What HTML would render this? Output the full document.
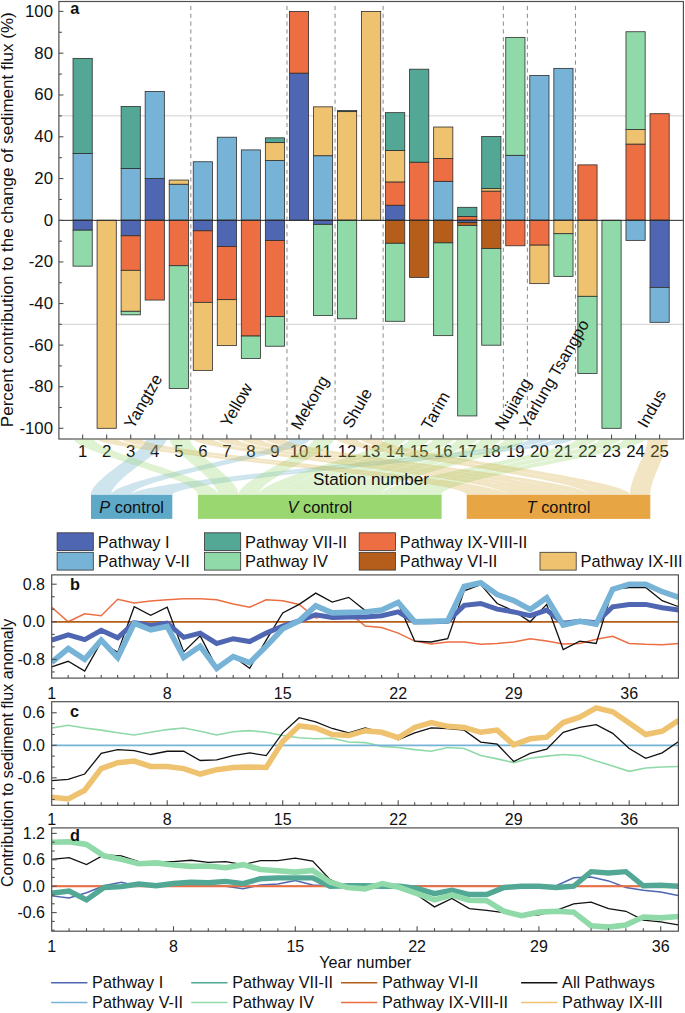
<!DOCTYPE html><html><head><meta charset="utf-8"><style>html,body{margin:0;padding:0;background:#fff;width:685px;height:1013px;overflow:hidden;position:relative}</style></head><body><svg width="685" height="1013" viewBox="0 0 685 1013" style="position:absolute;left:0;top:0;font-family:'Liberation Sans', sans-serif">
<rect width="685" height="1013" fill="#fff"/>
<line x1="58.9" x2="683.4" y1="115.87" y2="115.87" stroke="#cfcfcf" stroke-width="1"/>
<line x1="58.9" x2="683.4" y1="324.32" y2="324.32" stroke="#cfcfcf" stroke-width="1"/>
<line x1="190.82" x2="190.82" y1="5.9" y2="439.0" stroke="#8a8a8a" stroke-width="1" stroke-dasharray="4.2,3.6"/>
<line x1="286.98" x2="286.98" y1="5.9" y2="439.0" stroke="#8a8a8a" stroke-width="1" stroke-dasharray="4.2,3.6"/>
<line x1="335.06" x2="335.06" y1="5.9" y2="439.0" stroke="#8a8a8a" stroke-width="1" stroke-dasharray="4.2,3.6"/>
<line x1="383.14" x2="383.14" y1="5.9" y2="439.0" stroke="#8a8a8a" stroke-width="1" stroke-dasharray="4.2,3.6"/>
<line x1="503.34" x2="503.34" y1="5.9" y2="439.0" stroke="#8a8a8a" stroke-width="1" stroke-dasharray="4.2,3.6"/>
<line x1="527.38" x2="527.38" y1="5.9" y2="439.0" stroke="#8a8a8a" stroke-width="1" stroke-dasharray="4.2,3.6"/>
<line x1="575.46" x2="575.46" y1="5.9" y2="439.0" stroke="#8a8a8a" stroke-width="1" stroke-dasharray="4.2,3.6"/>
<rect x="73.04" y="153.43" width="19.2" height="66.77" fill="#76b3d7" stroke="#2e2e2e" stroke-width="0.8"/>
<rect x="73.04" y="58.38" width="19.2" height="95.06" fill="#52a894" stroke="#2e2e2e" stroke-width="0.8"/>
<rect x="73.04" y="220.20" width="19.2" height="9.98" fill="#4f66b2" stroke="#2e2e2e" stroke-width="0.8"/>
<rect x="73.04" y="230.18" width="19.2" height="35.98" fill="#8fdaa8" stroke="#2e2e2e" stroke-width="0.8"/>
<rect x="97.08" y="220.20" width="19.2" height="208.10" fill="#eec26e" stroke="#2e2e2e" stroke-width="0.8"/>
<rect x="121.12" y="168.41" width="19.2" height="51.79" fill="#76b3d7" stroke="#2e2e2e" stroke-width="0.8"/>
<rect x="121.12" y="106.42" width="19.2" height="61.98" fill="#52a894" stroke="#2e2e2e" stroke-width="0.8"/>
<rect x="121.12" y="220.20" width="19.2" height="15.60" fill="#4f66b2" stroke="#2e2e2e" stroke-width="0.8"/>
<rect x="121.12" y="235.80" width="19.2" height="34.53" fill="#ec6e42" stroke="#2e2e2e" stroke-width="0.8"/>
<rect x="121.12" y="270.33" width="19.2" height="40.98" fill="#eec26e" stroke="#2e2e2e" stroke-width="0.8"/>
<rect x="121.12" y="311.30" width="19.2" height="3.54" fill="#8fdaa8" stroke="#2e2e2e" stroke-width="0.8"/>
<rect x="145.16" y="178.60" width="19.2" height="41.60" fill="#4f66b2" stroke="#2e2e2e" stroke-width="0.8"/>
<rect x="145.16" y="91.45" width="19.2" height="87.15" fill="#76b3d7" stroke="#2e2e2e" stroke-width="0.8"/>
<rect x="145.16" y="220.20" width="19.2" height="79.87" fill="#ec6e42" stroke="#2e2e2e" stroke-width="0.8"/>
<rect x="169.20" y="184.22" width="19.2" height="35.98" fill="#76b3d7" stroke="#2e2e2e" stroke-width="0.8"/>
<rect x="169.20" y="180.06" width="19.2" height="4.16" fill="#eec26e" stroke="#2e2e2e" stroke-width="0.8"/>
<rect x="169.20" y="220.20" width="19.2" height="45.55" fill="#ec6e42" stroke="#2e2e2e" stroke-width="0.8"/>
<rect x="169.20" y="265.75" width="19.2" height="122.72" fill="#8fdaa8" stroke="#2e2e2e" stroke-width="0.8"/>
<rect x="193.24" y="161.75" width="19.2" height="58.45" fill="#76b3d7" stroke="#2e2e2e" stroke-width="0.8"/>
<rect x="193.24" y="220.20" width="19.2" height="10.61" fill="#4f66b2" stroke="#2e2e2e" stroke-width="0.8"/>
<rect x="193.24" y="230.81" width="19.2" height="71.55" fill="#ec6e42" stroke="#2e2e2e" stroke-width="0.8"/>
<rect x="193.24" y="302.36" width="19.2" height="68.02" fill="#eec26e" stroke="#2e2e2e" stroke-width="0.8"/>
<rect x="217.28" y="137.21" width="19.2" height="82.99" fill="#76b3d7" stroke="#2e2e2e" stroke-width="0.8"/>
<rect x="217.28" y="220.20" width="19.2" height="26.21" fill="#4f66b2" stroke="#2e2e2e" stroke-width="0.8"/>
<rect x="217.28" y="246.41" width="19.2" height="53.25" fill="#ec6e42" stroke="#2e2e2e" stroke-width="0.8"/>
<rect x="217.28" y="299.66" width="19.2" height="45.97" fill="#eec26e" stroke="#2e2e2e" stroke-width="0.8"/>
<rect x="241.32" y="149.90" width="19.2" height="70.30" fill="#76b3d7" stroke="#2e2e2e" stroke-width="0.8"/>
<rect x="241.32" y="220.20" width="19.2" height="115.86" fill="#ec6e42" stroke="#2e2e2e" stroke-width="0.8"/>
<rect x="241.32" y="336.06" width="19.2" height="22.46" fill="#8fdaa8" stroke="#2e2e2e" stroke-width="0.8"/>
<rect x="265.36" y="160.50" width="19.2" height="59.70" fill="#76b3d7" stroke="#2e2e2e" stroke-width="0.8"/>
<rect x="265.36" y="142.62" width="19.2" height="17.89" fill="#eec26e" stroke="#2e2e2e" stroke-width="0.8"/>
<rect x="265.36" y="137.83" width="19.2" height="4.78" fill="#52a894" stroke="#2e2e2e" stroke-width="0.8"/>
<rect x="265.36" y="220.20" width="19.2" height="20.38" fill="#4f66b2" stroke="#2e2e2e" stroke-width="0.8"/>
<rect x="265.36" y="240.58" width="19.2" height="75.92" fill="#ec6e42" stroke="#2e2e2e" stroke-width="0.8"/>
<rect x="265.36" y="316.50" width="19.2" height="29.74" fill="#8fdaa8" stroke="#2e2e2e" stroke-width="0.8"/>
<rect x="289.40" y="73.14" width="19.2" height="147.06" fill="#4f66b2" stroke="#2e2e2e" stroke-width="0.8"/>
<rect x="289.40" y="11.40" width="19.2" height="61.74" fill="#ec6e42" stroke="#2e2e2e" stroke-width="0.8"/>
<rect x="313.44" y="155.72" width="19.2" height="64.48" fill="#76b3d7" stroke="#2e2e2e" stroke-width="0.8"/>
<rect x="313.44" y="106.84" width="19.2" height="48.88" fill="#eec26e" stroke="#2e2e2e" stroke-width="0.8"/>
<rect x="313.44" y="220.20" width="19.2" height="4.16" fill="#4f66b2" stroke="#2e2e2e" stroke-width="0.8"/>
<rect x="313.44" y="224.36" width="19.2" height="91.10" fill="#8fdaa8" stroke="#2e2e2e" stroke-width="0.8"/>
<rect x="337.48" y="111.62" width="19.2" height="108.58" fill="#eec26e" stroke="#2e2e2e" stroke-width="0.8"/>
<rect x="337.48" y="110.58" width="19.2" height="1.04" fill="#52a894" stroke="#2e2e2e" stroke-width="0.8"/>
<rect x="337.48" y="220.20" width="19.2" height="98.59" fill="#8fdaa8" stroke="#2e2e2e" stroke-width="0.8"/>
<rect x="361.52" y="11.40" width="19.2" height="208.80" fill="#eec26e" stroke="#2e2e2e" stroke-width="0.8"/>
<rect x="385.56" y="205.22" width="19.2" height="14.98" fill="#4f66b2" stroke="#2e2e2e" stroke-width="0.8"/>
<rect x="385.56" y="181.93" width="19.2" height="23.30" fill="#ec6e42" stroke="#2e2e2e" stroke-width="0.8"/>
<rect x="385.56" y="150.52" width="19.2" height="31.41" fill="#eec26e" stroke="#2e2e2e" stroke-width="0.8"/>
<rect x="385.56" y="112.66" width="19.2" height="37.86" fill="#52a894" stroke="#2e2e2e" stroke-width="0.8"/>
<rect x="385.56" y="220.20" width="19.2" height="23.09" fill="#b55d1b" stroke="#2e2e2e" stroke-width="0.8"/>
<rect x="385.56" y="243.29" width="19.2" height="78.00" fill="#8fdaa8" stroke="#2e2e2e" stroke-width="0.8"/>
<rect x="409.60" y="162.17" width="19.2" height="58.03" fill="#ec6e42" stroke="#2e2e2e" stroke-width="0.8"/>
<rect x="409.60" y="69.19" width="19.2" height="92.98" fill="#52a894" stroke="#2e2e2e" stroke-width="0.8"/>
<rect x="409.60" y="220.20" width="19.2" height="57.20" fill="#b55d1b" stroke="#2e2e2e" stroke-width="0.8"/>
<rect x="433.64" y="181.30" width="19.2" height="38.90" fill="#76b3d7" stroke="#2e2e2e" stroke-width="0.8"/>
<rect x="433.64" y="158.42" width="19.2" height="22.88" fill="#ec6e42" stroke="#2e2e2e" stroke-width="0.8"/>
<rect x="433.64" y="127.02" width="19.2" height="31.41" fill="#eec26e" stroke="#2e2e2e" stroke-width="0.8"/>
<rect x="433.64" y="220.20" width="19.2" height="22.67" fill="#b55d1b" stroke="#2e2e2e" stroke-width="0.8"/>
<rect x="433.64" y="242.87" width="19.2" height="92.77" fill="#8fdaa8" stroke="#2e2e2e" stroke-width="0.8"/>
<rect x="457.68" y="216.46" width="19.2" height="3.74" fill="#ec6e42" stroke="#2e2e2e" stroke-width="0.8"/>
<rect x="457.68" y="207.30" width="19.2" height="9.15" fill="#52a894" stroke="#2e2e2e" stroke-width="0.8"/>
<rect x="457.68" y="220.20" width="19.2" height="2.29" fill="#4f66b2" stroke="#2e2e2e" stroke-width="0.8"/>
<rect x="457.68" y="222.49" width="19.2" height="2.91" fill="#b55d1b" stroke="#2e2e2e" stroke-width="0.8"/>
<rect x="457.68" y="225.40" width="19.2" height="190.53" fill="#8fdaa8" stroke="#2e2e2e" stroke-width="0.8"/>
<rect x="481.72" y="191.08" width="19.2" height="29.12" fill="#ec6e42" stroke="#2e2e2e" stroke-width="0.8"/>
<rect x="481.72" y="188.58" width="19.2" height="2.50" fill="#eec26e" stroke="#2e2e2e" stroke-width="0.8"/>
<rect x="481.72" y="136.58" width="19.2" height="52.00" fill="#52a894" stroke="#2e2e2e" stroke-width="0.8"/>
<rect x="481.72" y="220.20" width="19.2" height="28.29" fill="#b55d1b" stroke="#2e2e2e" stroke-width="0.8"/>
<rect x="481.72" y="248.49" width="19.2" height="96.72" fill="#8fdaa8" stroke="#2e2e2e" stroke-width="0.8"/>
<rect x="505.76" y="155.30" width="19.2" height="64.90" fill="#76b3d7" stroke="#2e2e2e" stroke-width="0.8"/>
<rect x="505.76" y="37.37" width="19.2" height="117.94" fill="#8fdaa8" stroke="#2e2e2e" stroke-width="0.8"/>
<rect x="505.76" y="220.20" width="19.2" height="25.58" fill="#ec6e42" stroke="#2e2e2e" stroke-width="0.8"/>
<rect x="529.80" y="75.43" width="19.2" height="144.77" fill="#76b3d7" stroke="#2e2e2e" stroke-width="0.8"/>
<rect x="529.80" y="220.20" width="19.2" height="24.96" fill="#ec6e42" stroke="#2e2e2e" stroke-width="0.8"/>
<rect x="529.80" y="245.16" width="19.2" height="38.48" fill="#eec26e" stroke="#2e2e2e" stroke-width="0.8"/>
<rect x="553.84" y="68.36" width="19.2" height="151.84" fill="#76b3d7" stroke="#2e2e2e" stroke-width="0.8"/>
<rect x="553.84" y="220.20" width="19.2" height="13.52" fill="#eec26e" stroke="#2e2e2e" stroke-width="0.8"/>
<rect x="553.84" y="233.72" width="19.2" height="42.64" fill="#8fdaa8" stroke="#2e2e2e" stroke-width="0.8"/>
<rect x="577.88" y="164.87" width="19.2" height="55.33" fill="#ec6e42" stroke="#2e2e2e" stroke-width="0.8"/>
<rect x="577.88" y="220.20" width="19.2" height="76.13" fill="#eec26e" stroke="#2e2e2e" stroke-width="0.8"/>
<rect x="577.88" y="296.33" width="19.2" height="77.17" fill="#8fdaa8" stroke="#2e2e2e" stroke-width="0.8"/>
<rect x="601.92" y="220.20" width="19.2" height="208.10" fill="#8fdaa8" stroke="#2e2e2e" stroke-width="0.8"/>
<rect x="625.96" y="144.07" width="19.2" height="76.13" fill="#ec6e42" stroke="#2e2e2e" stroke-width="0.8"/>
<rect x="625.96" y="129.51" width="19.2" height="14.56" fill="#eec26e" stroke="#2e2e2e" stroke-width="0.8"/>
<rect x="625.96" y="31.75" width="19.2" height="97.76" fill="#8fdaa8" stroke="#2e2e2e" stroke-width="0.8"/>
<rect x="625.96" y="220.20" width="19.2" height="20.18" fill="#76b3d7" stroke="#2e2e2e" stroke-width="0.8"/>
<rect x="650.00" y="113.70" width="19.2" height="106.50" fill="#ec6e42" stroke="#2e2e2e" stroke-width="0.8"/>
<rect x="650.00" y="220.20" width="19.2" height="67.18" fill="#4f66b2" stroke="#2e2e2e" stroke-width="0.8"/>
<rect x="650.00" y="287.38" width="19.2" height="34.94" fill="#76b3d7" stroke="#2e2e2e" stroke-width="0.8"/>
<line x1="58.9" x2="683.4" y1="220.35" y2="220.35" stroke="#2a2a2a" stroke-width="1.0"/>
<text x="133.3" y="429.7" font-size="16.5" fill="#111" transform="rotate(-60 133.3 429.7)" text-anchor="start">Yangtze</text>
<text x="229.4" y="428.2" font-size="16.5" fill="#111" transform="rotate(-60 229.4 428.2)" text-anchor="start">Yellow</text>
<text x="300.0" y="431.0" font-size="16.5" fill="#111" transform="rotate(-60 300.0 431.0)" text-anchor="start">Mekong</text>
<text x="351.5" y="429.2" font-size="16.5" fill="#111" transform="rotate(-60 351.5 429.2)" text-anchor="start">Shule</text>
<text x="430.3" y="430.9" font-size="16.5" fill="#111" transform="rotate(-60 430.3 430.9)" text-anchor="start">Tarim</text>
<text x="503.9" y="430.7" font-size="16.5" fill="#111" transform="rotate(-60 503.9 430.7)" text-anchor="start">Nujiang</text>
<text x="528.4" y="429.8" font-size="16.5" fill="#111" transform="rotate(-60 528.4 429.8)" text-anchor="start">Yarlung Tsangpo</text>
<text x="646.5" y="428.9" font-size="16.5" fill="#111" transform="rotate(-60 646.5 428.9)" text-anchor="start">Indus</text>
<rect x="58.9" y="1.5" width="624.5" height="437.5" fill="none" stroke="#505050" stroke-width="1.2"/>
<line x1="58.9" x2="63.4" y1="428.30" y2="428.30" stroke="#505050" stroke-width="1.1"/>
<line x1="58.9" x2="61.9" y1="407.50" y2="407.50" stroke="#505050" stroke-width="1.1"/>
<line x1="58.9" x2="63.4" y1="386.71" y2="386.71" stroke="#505050" stroke-width="1.1"/>
<line x1="58.9" x2="61.9" y1="365.91" y2="365.91" stroke="#505050" stroke-width="1.1"/>
<line x1="58.9" x2="63.4" y1="345.12" y2="345.12" stroke="#505050" stroke-width="1.1"/>
<line x1="58.9" x2="61.9" y1="324.32" y2="324.32" stroke="#505050" stroke-width="1.1"/>
<line x1="58.9" x2="63.4" y1="303.53" y2="303.53" stroke="#505050" stroke-width="1.1"/>
<line x1="58.9" x2="61.9" y1="282.74" y2="282.74" stroke="#505050" stroke-width="1.1"/>
<line x1="58.9" x2="63.4" y1="261.94" y2="261.94" stroke="#505050" stroke-width="1.1"/>
<line x1="58.9" x2="61.9" y1="241.14" y2="241.14" stroke="#505050" stroke-width="1.1"/>
<line x1="58.9" x2="63.4" y1="220.35" y2="220.35" stroke="#505050" stroke-width="1.1"/>
<line x1="58.9" x2="61.9" y1="199.45" y2="199.45" stroke="#505050" stroke-width="1.1"/>
<line x1="58.9" x2="63.4" y1="178.56" y2="178.56" stroke="#505050" stroke-width="1.1"/>
<line x1="58.9" x2="61.9" y1="157.66" y2="157.66" stroke="#505050" stroke-width="1.1"/>
<line x1="58.9" x2="63.4" y1="136.77" y2="136.77" stroke="#505050" stroke-width="1.1"/>
<line x1="58.9" x2="61.9" y1="115.87" y2="115.87" stroke="#505050" stroke-width="1.1"/>
<line x1="58.9" x2="63.4" y1="94.98" y2="94.98" stroke="#505050" stroke-width="1.1"/>
<line x1="58.9" x2="61.9" y1="74.08" y2="74.08" stroke="#505050" stroke-width="1.1"/>
<line x1="58.9" x2="63.4" y1="53.19" y2="53.19" stroke="#505050" stroke-width="1.1"/>
<line x1="58.9" x2="61.9" y1="32.29" y2="32.29" stroke="#505050" stroke-width="1.1"/>
<line x1="58.9" x2="63.4" y1="11.40" y2="11.40" stroke="#505050" stroke-width="1.1"/>
<text x="53" y="433.70" font-size="16.8" text-anchor="end" fill="#111">-100</text>
<text x="53" y="392.11" font-size="16.8" text-anchor="end" fill="#111">-80</text>
<text x="53" y="350.52" font-size="16.8" text-anchor="end" fill="#111">-60</text>
<text x="53" y="308.93" font-size="16.8" text-anchor="end" fill="#111">-40</text>
<text x="53" y="267.34" font-size="16.8" text-anchor="end" fill="#111">-20</text>
<text x="53" y="225.75" font-size="16.8" text-anchor="end" fill="#111">0</text>
<text x="53" y="183.96" font-size="16.8" text-anchor="end" fill="#111">20</text>
<text x="53" y="142.17" font-size="16.8" text-anchor="end" fill="#111">40</text>
<text x="53" y="100.38" font-size="16.8" text-anchor="end" fill="#111">60</text>
<text x="53" y="58.59" font-size="16.8" text-anchor="end" fill="#111">80</text>
<text x="53" y="16.80" font-size="16.8" text-anchor="end" fill="#111">100</text>
<line x1="82.64" x2="82.64" y1="439.0" y2="434.5" stroke="#505050" stroke-width="1.1"/>
<text x="82.64" y="456.8" font-size="16.8" text-anchor="middle" fill="#111">1</text>
<line x1="106.68" x2="106.68" y1="439.0" y2="434.5" stroke="#505050" stroke-width="1.1"/>
<text x="106.68" y="456.8" font-size="16.8" text-anchor="middle" fill="#111">2</text>
<line x1="130.72" x2="130.72" y1="439.0" y2="434.5" stroke="#505050" stroke-width="1.1"/>
<text x="130.72" y="456.8" font-size="16.8" text-anchor="middle" fill="#111">3</text>
<line x1="154.76" x2="154.76" y1="439.0" y2="434.5" stroke="#505050" stroke-width="1.1"/>
<text x="154.76" y="456.8" font-size="16.8" text-anchor="middle" fill="#111">4</text>
<line x1="178.80" x2="178.80" y1="439.0" y2="434.5" stroke="#505050" stroke-width="1.1"/>
<text x="178.80" y="456.8" font-size="16.8" text-anchor="middle" fill="#111">5</text>
<line x1="202.84" x2="202.84" y1="439.0" y2="434.5" stroke="#505050" stroke-width="1.1"/>
<text x="202.84" y="456.8" font-size="16.8" text-anchor="middle" fill="#111">6</text>
<line x1="226.88" x2="226.88" y1="439.0" y2="434.5" stroke="#505050" stroke-width="1.1"/>
<text x="226.88" y="456.8" font-size="16.8" text-anchor="middle" fill="#111">7</text>
<line x1="250.92" x2="250.92" y1="439.0" y2="434.5" stroke="#505050" stroke-width="1.1"/>
<text x="250.92" y="456.8" font-size="16.8" text-anchor="middle" fill="#111">8</text>
<line x1="274.96" x2="274.96" y1="439.0" y2="434.5" stroke="#505050" stroke-width="1.1"/>
<text x="274.96" y="456.8" font-size="16.8" text-anchor="middle" fill="#111">9</text>
<line x1="299.00" x2="299.00" y1="439.0" y2="434.5" stroke="#505050" stroke-width="1.1"/>
<text x="299.00" y="456.8" font-size="16.8" text-anchor="middle" fill="#111">10</text>
<line x1="323.04" x2="323.04" y1="439.0" y2="434.5" stroke="#505050" stroke-width="1.1"/>
<text x="323.04" y="456.8" font-size="16.8" text-anchor="middle" fill="#111">11</text>
<line x1="347.08" x2="347.08" y1="439.0" y2="434.5" stroke="#505050" stroke-width="1.1"/>
<text x="347.08" y="456.8" font-size="16.8" text-anchor="middle" fill="#111">12</text>
<line x1="371.12" x2="371.12" y1="439.0" y2="434.5" stroke="#505050" stroke-width="1.1"/>
<text x="371.12" y="456.8" font-size="16.8" text-anchor="middle" fill="#111">13</text>
<line x1="395.16" x2="395.16" y1="439.0" y2="434.5" stroke="#505050" stroke-width="1.1"/>
<text x="395.16" y="456.8" font-size="16.8" text-anchor="middle" fill="#111">14</text>
<line x1="419.20" x2="419.20" y1="439.0" y2="434.5" stroke="#505050" stroke-width="1.1"/>
<text x="419.20" y="456.8" font-size="16.8" text-anchor="middle" fill="#111">15</text>
<line x1="443.24" x2="443.24" y1="439.0" y2="434.5" stroke="#505050" stroke-width="1.1"/>
<text x="443.24" y="456.8" font-size="16.8" text-anchor="middle" fill="#111">16</text>
<line x1="467.28" x2="467.28" y1="439.0" y2="434.5" stroke="#505050" stroke-width="1.1"/>
<text x="467.28" y="456.8" font-size="16.8" text-anchor="middle" fill="#111">17</text>
<line x1="491.32" x2="491.32" y1="439.0" y2="434.5" stroke="#505050" stroke-width="1.1"/>
<text x="491.32" y="456.8" font-size="16.8" text-anchor="middle" fill="#111">18</text>
<line x1="515.36" x2="515.36" y1="439.0" y2="434.5" stroke="#505050" stroke-width="1.1"/>
<text x="515.36" y="456.8" font-size="16.8" text-anchor="middle" fill="#111">19</text>
<line x1="539.40" x2="539.40" y1="439.0" y2="434.5" stroke="#505050" stroke-width="1.1"/>
<text x="539.40" y="456.8" font-size="16.8" text-anchor="middle" fill="#111">20</text>
<line x1="563.44" x2="563.44" y1="439.0" y2="434.5" stroke="#505050" stroke-width="1.1"/>
<text x="563.44" y="456.8" font-size="16.8" text-anchor="middle" fill="#111">21</text>
<line x1="587.48" x2="587.48" y1="439.0" y2="434.5" stroke="#505050" stroke-width="1.1"/>
<text x="587.48" y="456.8" font-size="16.8" text-anchor="middle" fill="#111">22</text>
<line x1="611.52" x2="611.52" y1="439.0" y2="434.5" stroke="#505050" stroke-width="1.1"/>
<text x="611.52" y="456.8" font-size="16.8" text-anchor="middle" fill="#111">23</text>
<line x1="635.56" x2="635.56" y1="439.0" y2="434.5" stroke="#505050" stroke-width="1.1"/>
<text x="635.56" y="456.8" font-size="16.8" text-anchor="middle" fill="#111">24</text>
<line x1="659.60" x2="659.60" y1="439.0" y2="434.5" stroke="#505050" stroke-width="1.1"/>
<text x="659.60" y="456.8" font-size="16.8" text-anchor="middle" fill="#111">25</text>
<text x="13.3" y="427.2" font-size="16.0" fill="#111" transform="rotate(-90 13.3 427.2)" textLength="415" lengthAdjust="spacingAndGlyphs">Percent contribution to the change of sediment flux (%)</text>
<text x="70.3" y="13.9" font-size="16.3" font-weight="bold" fill="#111">a</text>
<path d="M145.95,439.6 C145.95,451.60 91.00,478.80 91.00,494.8 L111.33,494.8 C111.33,478.80 166.27,451.60 166.27,439.6 Z" fill="#5ea8c8" fill-opacity="0.3"/>
<path d="M289.29,439.6 C289.29,451.60 111.33,478.80 111.33,494.8 L131.65,494.8 C131.65,478.80 309.61,451.60 309.61,439.6 Z" fill="#5ea8c8" fill-opacity="0.3"/>
<path d="M528.19,439.6 C528.19,451.60 131.65,478.80 131.65,494.8 L151.98,494.8 C151.98,478.80 548.51,451.60 548.51,439.6 Z" fill="#5ea8c8" fill-opacity="0.3"/>
<path d="M552.08,439.6 C552.08,451.60 151.98,478.80 151.98,494.8 L172.30,494.8 C172.30,478.80 572.40,451.60 572.40,439.6 Z" fill="#5ea8c8" fill-opacity="0.3"/>
<path d="M74.29,439.6 C74.29,451.60 198.00,478.80 198.00,494.8 L218.30,494.8 C218.30,478.80 94.59,451.60 94.59,439.6 Z" fill="#96d46a" fill-opacity="0.3"/>
<path d="M169.85,439.6 C169.85,451.60 218.30,478.80 218.30,494.8 L238.60,494.8 C238.60,478.80 190.15,451.60 190.15,439.6 Z" fill="#96d46a" fill-opacity="0.3"/>
<path d="M313.19,439.6 C313.19,451.60 238.60,478.80 238.60,494.8 L258.90,494.8 C258.90,478.80 333.49,451.60 333.49,439.6 Z" fill="#96d46a" fill-opacity="0.3"/>
<path d="M384.86,439.6 C384.86,451.60 258.90,478.80 258.90,494.8 L279.20,494.8 C279.20,478.80 405.16,451.60 405.16,439.6 Z" fill="#96d46a" fill-opacity="0.3"/>
<path d="M408.75,439.6 C408.75,451.60 279.20,478.80 279.20,494.8 L299.50,494.8 C299.50,478.80 429.05,451.60 429.05,439.6 Z" fill="#96d46a" fill-opacity="0.3"/>
<path d="M432.64,439.6 C432.64,451.60 299.50,478.80 299.50,494.8 L319.80,494.8 C319.80,478.80 452.94,451.60 452.94,439.6 Z" fill="#96d46a" fill-opacity="0.3"/>
<path d="M456.53,439.6 C456.53,451.60 319.80,478.80 319.80,494.8 L340.10,494.8 C340.10,478.80 476.83,451.60 476.83,439.6 Z" fill="#96d46a" fill-opacity="0.3"/>
<path d="M480.42,439.6 C480.42,451.60 340.10,478.80 340.10,494.8 L360.40,494.8 C360.40,478.80 500.72,451.60 500.72,439.6 Z" fill="#96d46a" fill-opacity="0.3"/>
<path d="M504.31,439.6 C504.31,451.60 360.40,478.80 360.40,494.8 L380.70,494.8 C380.70,478.80 524.61,451.60 524.61,439.6 Z" fill="#96d46a" fill-opacity="0.3"/>
<path d="M575.98,439.6 C575.98,451.60 380.70,478.80 380.70,494.8 L401.00,494.8 C401.00,478.80 596.28,451.60 596.28,439.6 Z" fill="#96d46a" fill-opacity="0.3"/>
<path d="M599.87,439.6 C599.87,451.60 401.00,478.80 401.00,494.8 L421.30,494.8 C421.30,478.80 620.17,451.60 620.17,439.6 Z" fill="#96d46a" fill-opacity="0.3"/>
<path d="M623.76,439.6 C623.76,451.60 421.30,478.80 421.30,494.8 L441.60,494.8 C441.60,478.80 644.06,451.60 644.06,439.6 Z" fill="#96d46a" fill-opacity="0.3"/>
<path d="M98.13,439.6 C98.13,451.60 466.70,478.80 466.70,494.8 L487.10,494.8 C487.10,478.80 118.53,451.60 118.53,439.6 Z" fill="#d2aa3c" fill-opacity="0.3"/>
<path d="M122.02,439.6 C122.02,451.60 487.10,478.80 487.10,494.8 L507.50,494.8 C507.50,478.80 142.42,451.60 142.42,439.6 Z" fill="#d2aa3c" fill-opacity="0.3"/>
<path d="M193.69,439.6 C193.69,451.60 507.50,478.80 507.50,494.8 L527.90,494.8 C527.90,478.80 214.09,451.60 214.09,439.6 Z" fill="#d2aa3c" fill-opacity="0.3"/>
<path d="M217.58,439.6 C217.58,451.60 527.90,478.80 527.90,494.8 L548.30,494.8 C548.30,478.80 237.98,451.60 237.98,439.6 Z" fill="#d2aa3c" fill-opacity="0.3"/>
<path d="M241.47,439.6 C241.47,451.60 548.30,478.80 548.30,494.8 L568.70,494.8 C568.70,478.80 261.87,451.60 261.87,439.6 Z" fill="#d2aa3c" fill-opacity="0.3"/>
<path d="M265.36,439.6 C265.36,451.60 568.70,478.80 568.70,494.8 L589.10,494.8 C589.10,478.80 285.76,451.60 285.76,439.6 Z" fill="#d2aa3c" fill-opacity="0.3"/>
<path d="M337.03,439.6 C337.03,451.60 589.10,478.80 589.10,494.8 L609.50,494.8 C609.50,478.80 357.43,451.60 357.43,439.6 Z" fill="#d2aa3c" fill-opacity="0.3"/>
<path d="M360.92,439.6 C360.92,451.60 609.50,478.80 609.50,494.8 L629.90,494.8 C629.90,478.80 381.32,451.60 381.32,439.6 Z" fill="#d2aa3c" fill-opacity="0.3"/>
<path d="M647.60,439.6 C647.60,451.60 629.90,478.80 629.90,494.8 L650.30,494.8 C650.30,478.80 668.00,451.60 668.00,439.6 Z" fill="#d2aa3c" fill-opacity="0.3"/>
<text x="371" y="485" font-size="17.1" text-anchor="middle" fill="#111">Station number</text>
<rect x="91.0" y="494.8" width="81.30" height="24.1" fill="#5ea8c8"/>
<text x="131.65" y="513.2" font-size="16.4" text-anchor="middle" fill="#111"><tspan font-style="italic">P</tspan> control</text>
<rect x="198.0" y="494.8" width="243.60" height="24.1" fill="#9ad770"/>
<text x="319.80" y="513.2" font-size="16.4" text-anchor="middle" fill="#111"><tspan font-style="italic">V</tspan> control</text>
<rect x="466.7" y="494.8" width="183.60" height="24.1" fill="#e8a543"/>
<text x="558.50" y="513.2" font-size="16.4" text-anchor="middle" fill="#111"><tspan font-style="italic">T</tspan> control</text>
<rect x="57.1" y="532.8" width="36.2" height="17.8" fill="#4f66b2" stroke="#333" stroke-width="0.8"/>
<text x="97.7" y="547.7" font-size="16.4" fill="#111">Pathway I</text>
<rect x="57.1" y="552.3" width="36.2" height="17.8" fill="#76b3d7" stroke="#333" stroke-width="0.8"/>
<text x="97.7" y="567.2" font-size="16.4" fill="#111">Pathway V-II</text>
<rect x="204.5" y="532.8" width="36.2" height="17.8" fill="#52a894" stroke="#333" stroke-width="0.8"/>
<text x="245.1" y="547.7" font-size="16.4" fill="#111">Pathway VII-II</text>
<rect x="204.5" y="552.3" width="36.2" height="17.8" fill="#8fdaa8" stroke="#333" stroke-width="0.8"/>
<text x="245.1" y="567.2" font-size="16.4" fill="#111">Pathway IV</text>
<rect x="359.2" y="532.8" width="36.2" height="17.8" fill="#ec6e42" stroke="#333" stroke-width="0.8"/>
<text x="399.8" y="547.7" font-size="16.4" fill="#111">Pathway IX-VIII-II</text>
<rect x="359.2" y="552.3" width="36.2" height="17.8" fill="#b55d1b" stroke="#333" stroke-width="0.8"/>
<text x="399.8" y="567.2" font-size="16.4" fill="#111">Pathway VI-II</text>
<rect x="540.0" y="552.3" width="36.2" height="17.8" fill="#eec26e" stroke="#333" stroke-width="0.8"/>
<text x="580.6" y="567.2" font-size="16.4" fill="#111">Pathway IX-III</text>
<clipPath id="clipb"><rect x="51.7" y="574.9" width="626.7" height="103.2"/></clipPath>
<g clip-path="url(#clipb)">
<polyline points="51.70,607.23 68.20,621.80 84.70,613.81 101.20,615.69 117.70,599.24 134.20,603.00 150.70,601.12 167.20,599.71 183.70,598.77 200.20,598.77 216.70,599.71 233.20,603.94 249.70,607.23 266.20,599.71 282.70,600.65 299.20,604.41 315.70,618.04 332.20,614.75 348.70,612.40 365.20,626.03 381.70,627.44 398.20,633.08 414.70,641.07 431.20,643.89 447.70,642.01 464.20,642.01 480.70,644.36 497.20,643.42 513.70,642.01 530.20,638.72 546.70,641.07 563.20,643.89 579.70,643.42 596.20,639.19 612.70,636.37 629.20,643.42 645.70,644.36 662.20,644.83 678.70,643.42" fill="none" stroke="#ec6e42" stroke-width="1.5" stroke-linejoin="miter" stroke-miterlimit="3"/>
<polyline points="51.70,621.80 68.20,621.80 84.70,621.80 101.20,621.80 117.70,621.80 134.20,621.80 150.70,621.80 167.20,621.80 183.70,621.80 200.20,621.80 216.70,621.80 233.20,621.80 249.70,621.80 266.20,621.80 282.70,621.80 299.20,621.80 315.70,621.80 332.20,621.80 348.70,621.80 365.20,621.80 381.70,621.80 398.20,621.80 414.70,621.80 431.20,621.80 447.70,621.80 464.20,621.80 480.70,621.80 497.20,621.80 513.70,621.80 530.20,621.80 546.70,621.80 563.20,621.80 579.70,621.80 596.20,621.80 612.70,621.80 629.20,621.80 645.70,621.80 662.20,621.80 678.70,621.80" fill="none" stroke="#b55d1b" stroke-width="1.7" stroke-linejoin="miter" stroke-miterlimit="3"/>
<polyline points="51.70,666.92 68.20,661.28 84.70,671.15 101.20,642.01 117.70,652.35 134.20,606.76 150.70,615.22 167.20,607.23 183.70,651.88 200.20,635.90 216.70,667.86 233.20,656.58 249.70,668.33 266.20,640.13 282.70,612.87 299.20,604.41 315.70,593.13 332.20,602.06 348.70,597.36 365.20,610.52 381.70,610.05 398.20,603.47 414.70,641.07 431.20,642.01 447.70,638.72 464.20,590.78 480.70,584.67 497.20,603.47 513.70,610.99 530.20,621.80 546.70,604.41 563.20,649.53 579.70,641.07 596.20,643.42 612.70,589.37 629.20,587.49 645.70,587.49 662.20,600.65 678.70,606.76" fill="none" stroke="#111" stroke-width="1.3" stroke-linejoin="miter" stroke-miterlimit="3"/>
<polyline points="51.70,640.13 68.20,634.96 84.70,639.66 101.20,630.26 117.70,637.78 134.20,622.74 150.70,625.56 167.20,623.21 183.70,637.31 200.20,633.08 216.70,643.42 233.20,638.72 249.70,641.54 266.20,633.08 282.70,626.03 299.20,620.86 315.70,614.75 332.20,617.57 348.70,617.10 365.20,617.10 381.70,615.69 398.20,611.93 414.70,621.80 431.20,621.80 447.70,621.33 464.20,605.35 480.70,603.47 497.20,609.11 513.70,611.93 530.20,615.69 546.70,610.05 563.20,623.21 579.70,621.33 596.20,622.74 612.70,606.76 629.20,604.41 645.70,604.41 662.20,607.70 678.70,610.05" fill="none" stroke="#4f66b2" stroke-width="5.0" stroke-linejoin="miter" stroke-miterlimit="3"/>
<polyline points="51.70,662.22 68.20,648.59 84.70,659.40 101.20,640.13 117.70,657.52 134.20,623.21 150.70,629.79 167.20,626.50 183.70,657.52 200.20,646.24 216.70,668.33 233.20,656.58 249.70,662.69 266.20,646.24 282.70,628.85 299.20,620.86 315.70,605.82 332.20,612.87 348.70,612.40 365.20,611.93 381.70,610.05 398.20,602.53 414.70,621.80 431.20,621.33 447.70,620.86 464.20,586.55 480.70,582.79 497.20,594.54 513.70,600.65 530.20,609.58 546.70,597.83 563.20,625.09 579.70,621.33 596.20,624.15 612.70,589.37 629.20,584.20 645.70,584.20 662.20,591.72 678.70,597.36" fill="none" stroke="#76b3d7" stroke-width="5.6" stroke-linejoin="miter" stroke-miterlimit="3"/>
</g>
<rect x="51.7" y="574.9" width="626.7" height="103.2" fill="none" stroke="#505050" stroke-width="1.2"/>
<line x1="51.7" x2="56.7" y1="584.20" y2="584.20" stroke="#505050" stroke-width="1.1"/>
<text x="45" y="589.60" font-size="16.0" text-anchor="end" fill="#111">0.8</text>
<line x1="51.7" x2="56.7" y1="621.80" y2="621.80" stroke="#505050" stroke-width="1.1"/>
<text x="45" y="627.20" font-size="16.0" text-anchor="end" fill="#111">0.0</text>
<line x1="51.7" x2="56.7" y1="659.40" y2="659.40" stroke="#505050" stroke-width="1.1"/>
<text x="45" y="664.80" font-size="16.0" text-anchor="end" fill="#111">-0.8</text>
<line x1="51.7" x2="54.7" y1="596.75" y2="596.75" stroke="#505050" stroke-width="1.1"/>
<line x1="51.7" x2="54.7" y1="609.25" y2="609.25" stroke="#505050" stroke-width="1.1"/>
<line x1="51.7" x2="54.7" y1="634.35" y2="634.35" stroke="#505050" stroke-width="1.1"/>
<line x1="51.7" x2="54.7" y1="646.85" y2="646.85" stroke="#505050" stroke-width="1.1"/>
<line x1="51.7" x2="54.7" y1="671.95" y2="671.95" stroke="#505050" stroke-width="1.1"/>
<line x1="68.20" x2="68.20" y1="678.1" y2="675.1" stroke="#505050" stroke-width="1.1"/>
<line x1="84.70" x2="84.70" y1="678.1" y2="675.1" stroke="#505050" stroke-width="1.1"/>
<line x1="101.20" x2="101.20" y1="678.1" y2="675.1" stroke="#505050" stroke-width="1.1"/>
<line x1="117.70" x2="117.70" y1="678.1" y2="675.1" stroke="#505050" stroke-width="1.1"/>
<line x1="134.20" x2="134.20" y1="678.1" y2="675.1" stroke="#505050" stroke-width="1.1"/>
<line x1="150.70" x2="150.70" y1="678.1" y2="675.1" stroke="#505050" stroke-width="1.1"/>
<line x1="167.20" x2="167.20" y1="678.1" y2="673.1" stroke="#505050" stroke-width="1.1"/>
<line x1="183.70" x2="183.70" y1="678.1" y2="675.1" stroke="#505050" stroke-width="1.1"/>
<line x1="200.20" x2="200.20" y1="678.1" y2="675.1" stroke="#505050" stroke-width="1.1"/>
<line x1="216.70" x2="216.70" y1="678.1" y2="675.1" stroke="#505050" stroke-width="1.1"/>
<line x1="233.20" x2="233.20" y1="678.1" y2="675.1" stroke="#505050" stroke-width="1.1"/>
<line x1="249.70" x2="249.70" y1="678.1" y2="675.1" stroke="#505050" stroke-width="1.1"/>
<line x1="266.20" x2="266.20" y1="678.1" y2="675.1" stroke="#505050" stroke-width="1.1"/>
<line x1="282.70" x2="282.70" y1="678.1" y2="673.1" stroke="#505050" stroke-width="1.1"/>
<line x1="299.20" x2="299.20" y1="678.1" y2="675.1" stroke="#505050" stroke-width="1.1"/>
<line x1="315.70" x2="315.70" y1="678.1" y2="675.1" stroke="#505050" stroke-width="1.1"/>
<line x1="332.20" x2="332.20" y1="678.1" y2="675.1" stroke="#505050" stroke-width="1.1"/>
<line x1="348.70" x2="348.70" y1="678.1" y2="675.1" stroke="#505050" stroke-width="1.1"/>
<line x1="365.20" x2="365.20" y1="678.1" y2="675.1" stroke="#505050" stroke-width="1.1"/>
<line x1="381.70" x2="381.70" y1="678.1" y2="675.1" stroke="#505050" stroke-width="1.1"/>
<line x1="398.20" x2="398.20" y1="678.1" y2="673.1" stroke="#505050" stroke-width="1.1"/>
<line x1="414.70" x2="414.70" y1="678.1" y2="675.1" stroke="#505050" stroke-width="1.1"/>
<line x1="431.20" x2="431.20" y1="678.1" y2="675.1" stroke="#505050" stroke-width="1.1"/>
<line x1="447.70" x2="447.70" y1="678.1" y2="675.1" stroke="#505050" stroke-width="1.1"/>
<line x1="464.20" x2="464.20" y1="678.1" y2="675.1" stroke="#505050" stroke-width="1.1"/>
<line x1="480.70" x2="480.70" y1="678.1" y2="675.1" stroke="#505050" stroke-width="1.1"/>
<line x1="497.20" x2="497.20" y1="678.1" y2="675.1" stroke="#505050" stroke-width="1.1"/>
<line x1="513.70" x2="513.70" y1="678.1" y2="673.1" stroke="#505050" stroke-width="1.1"/>
<line x1="530.20" x2="530.20" y1="678.1" y2="675.1" stroke="#505050" stroke-width="1.1"/>
<line x1="546.70" x2="546.70" y1="678.1" y2="675.1" stroke="#505050" stroke-width="1.1"/>
<line x1="563.20" x2="563.20" y1="678.1" y2="675.1" stroke="#505050" stroke-width="1.1"/>
<line x1="579.70" x2="579.70" y1="678.1" y2="675.1" stroke="#505050" stroke-width="1.1"/>
<line x1="596.20" x2="596.20" y1="678.1" y2="675.1" stroke="#505050" stroke-width="1.1"/>
<line x1="612.70" x2="612.70" y1="678.1" y2="675.1" stroke="#505050" stroke-width="1.1"/>
<line x1="629.20" x2="629.20" y1="678.1" y2="673.1" stroke="#505050" stroke-width="1.1"/>
<line x1="645.70" x2="645.70" y1="678.1" y2="675.1" stroke="#505050" stroke-width="1.1"/>
<line x1="662.20" x2="662.20" y1="678.1" y2="675.1" stroke="#505050" stroke-width="1.1"/>
<text x="51.70" y="698.5" font-size="16.0" text-anchor="middle" fill="#111">1</text>
<text x="167.20" y="698.5" font-size="16.0" text-anchor="middle" fill="#111">8</text>
<text x="282.70" y="698.5" font-size="16.0" text-anchor="middle" fill="#111">15</text>
<text x="398.20" y="698.5" font-size="16.0" text-anchor="middle" fill="#111">22</text>
<text x="513.70" y="698.5" font-size="16.0" text-anchor="middle" fill="#111">29</text>
<text x="629.20" y="698.5" font-size="16.0" text-anchor="middle" fill="#111">36</text>
<text x="70" y="589.6999999999999" font-size="16.3" font-weight="bold" fill="#111">b</text>
<clipPath id="clipc"><rect x="51.7" y="701.7" width="626.7" height="103.6"/></clipPath>
<g clip-path="url(#clipc)">
<polyline points="51.70,727.96 68.20,725.25 84.70,727.96 101.20,730.12 117.70,732.83 134.20,735.00 150.70,732.29 167.20,729.58 183.70,727.96 200.20,731.21 216.70,735.00 233.20,731.75 249.70,730.67 266.20,732.29 282.70,735.54 299.20,737.71 315.70,738.80 332.20,738.25 348.70,742.05 365.20,742.59 381.70,746.38 398.20,747.47 414.70,749.64 431.20,751.26 447.70,747.47 464.20,748.55 480.70,755.60 497.20,758.85 513.70,762.64 530.20,758.31 546.70,756.14 563.20,754.51 579.70,755.60 596.20,761.02 612.70,765.90 629.20,771.32 645.70,768.06 662.20,766.98 678.70,766.44" fill="none" stroke="#8fdaa8" stroke-width="1.6" stroke-linejoin="miter" stroke-miterlimit="3"/>
<polyline points="51.70,745.30 68.20,745.30 84.70,745.30 101.20,745.30 117.70,745.30 134.20,745.30 150.70,745.30 167.20,745.30 183.70,745.30 200.20,745.30 216.70,745.30 233.20,745.30 249.70,745.30 266.20,745.30 282.70,745.30 299.20,745.30 315.70,745.30 332.20,745.30 348.70,745.30 365.20,745.30 381.70,745.30 398.20,745.30 414.70,745.30 431.20,745.30 447.70,745.30 464.20,745.30 480.70,745.30 497.20,745.30 513.70,745.30 530.20,745.30 546.70,745.30 563.20,745.30 579.70,745.30 596.20,745.30 612.70,745.30 629.20,745.30 645.70,745.30 662.20,745.30 678.70,745.30" fill="none" stroke="#76b3d7" stroke-width="1.8" stroke-linejoin="miter" stroke-miterlimit="3"/>
<polyline points="51.70,780.53 68.20,779.45 84.70,774.03 101.20,753.43 117.70,749.64 134.20,750.72 150.70,754.51 167.20,751.26 183.70,751.26 200.20,760.48 216.70,759.93 233.20,755.60 249.70,752.89 266.20,755.60 282.70,732.83 299.20,717.66 315.70,721.99 332.20,728.50 348.70,732.83 365.20,727.96 381.70,732.29 398.20,739.88 414.70,732.83 431.20,727.96 447.70,728.50 464.20,730.12 480.70,742.05 497.20,744.22 513.70,761.56 530.20,753.43 546.70,749.09 563.20,732.29 579.70,727.41 596.20,724.70 612.70,733.38 629.20,748.55 645.70,758.31 662.20,752.89 678.70,741.51" fill="none" stroke="#111" stroke-width="1.3" stroke-linejoin="miter" stroke-miterlimit="3"/>
<polyline points="51.70,797.33 68.20,798.96 84.70,790.29 101.20,768.61 117.70,762.64 134.20,761.02 150.70,766.44 167.20,766.44 183.70,768.61 200.20,774.03 216.70,769.69 233.20,767.52 249.70,766.98 266.20,767.52 282.70,741.51 299.20,725.79 315.70,727.96 332.20,734.46 348.70,735.54 365.20,730.67 381.70,732.29 398.20,737.71 414.70,727.41 431.20,722.54 447.70,726.33 464.20,727.41 480.70,732.29 497.20,730.12 513.70,744.76 530.20,738.80 546.70,737.17 563.20,722.54 579.70,717.12 596.20,707.90 612.70,711.70 629.20,723.08 645.70,734.46 662.20,731.21 678.70,720.37" fill="none" stroke="#eec26e" stroke-width="5.5" stroke-linejoin="miter" stroke-miterlimit="3"/>
</g>
<rect x="51.7" y="701.7" width="626.7" height="103.6" fill="none" stroke="#505050" stroke-width="1.2"/>
<line x1="51.7" x2="56.7" y1="712.78" y2="712.78" stroke="#505050" stroke-width="1.1"/>
<text x="45" y="718.18" font-size="16.0" text-anchor="end" fill="#111">0.6</text>
<line x1="51.7" x2="56.7" y1="745.30" y2="745.30" stroke="#505050" stroke-width="1.1"/>
<text x="45" y="750.70" font-size="16.0" text-anchor="end" fill="#111">0.0</text>
<line x1="51.7" x2="56.7" y1="777.82" y2="777.82" stroke="#505050" stroke-width="1.1"/>
<text x="45" y="783.22" font-size="16.0" text-anchor="end" fill="#111">-0.6</text>
<line x1="51.7" x2="54.7" y1="723.62" y2="723.62" stroke="#505050" stroke-width="1.1"/>
<line x1="51.7" x2="54.7" y1="734.46" y2="734.46" stroke="#505050" stroke-width="1.1"/>
<line x1="51.7" x2="54.7" y1="756.14" y2="756.14" stroke="#505050" stroke-width="1.1"/>
<line x1="51.7" x2="54.7" y1="766.98" y2="766.98" stroke="#505050" stroke-width="1.1"/>
<line x1="51.7" x2="54.7" y1="788.66" y2="788.66" stroke="#505050" stroke-width="1.1"/>
<line x1="51.7" x2="54.7" y1="799.50" y2="799.50" stroke="#505050" stroke-width="1.1"/>
<line x1="68.20" x2="68.20" y1="805.3" y2="802.3" stroke="#505050" stroke-width="1.1"/>
<line x1="84.70" x2="84.70" y1="805.3" y2="802.3" stroke="#505050" stroke-width="1.1"/>
<line x1="101.20" x2="101.20" y1="805.3" y2="802.3" stroke="#505050" stroke-width="1.1"/>
<line x1="117.70" x2="117.70" y1="805.3" y2="802.3" stroke="#505050" stroke-width="1.1"/>
<line x1="134.20" x2="134.20" y1="805.3" y2="802.3" stroke="#505050" stroke-width="1.1"/>
<line x1="150.70" x2="150.70" y1="805.3" y2="802.3" stroke="#505050" stroke-width="1.1"/>
<line x1="167.20" x2="167.20" y1="805.3" y2="800.3" stroke="#505050" stroke-width="1.1"/>
<line x1="183.70" x2="183.70" y1="805.3" y2="802.3" stroke="#505050" stroke-width="1.1"/>
<line x1="200.20" x2="200.20" y1="805.3" y2="802.3" stroke="#505050" stroke-width="1.1"/>
<line x1="216.70" x2="216.70" y1="805.3" y2="802.3" stroke="#505050" stroke-width="1.1"/>
<line x1="233.20" x2="233.20" y1="805.3" y2="802.3" stroke="#505050" stroke-width="1.1"/>
<line x1="249.70" x2="249.70" y1="805.3" y2="802.3" stroke="#505050" stroke-width="1.1"/>
<line x1="266.20" x2="266.20" y1="805.3" y2="802.3" stroke="#505050" stroke-width="1.1"/>
<line x1="282.70" x2="282.70" y1="805.3" y2="800.3" stroke="#505050" stroke-width="1.1"/>
<line x1="299.20" x2="299.20" y1="805.3" y2="802.3" stroke="#505050" stroke-width="1.1"/>
<line x1="315.70" x2="315.70" y1="805.3" y2="802.3" stroke="#505050" stroke-width="1.1"/>
<line x1="332.20" x2="332.20" y1="805.3" y2="802.3" stroke="#505050" stroke-width="1.1"/>
<line x1="348.70" x2="348.70" y1="805.3" y2="802.3" stroke="#505050" stroke-width="1.1"/>
<line x1="365.20" x2="365.20" y1="805.3" y2="802.3" stroke="#505050" stroke-width="1.1"/>
<line x1="381.70" x2="381.70" y1="805.3" y2="802.3" stroke="#505050" stroke-width="1.1"/>
<line x1="398.20" x2="398.20" y1="805.3" y2="800.3" stroke="#505050" stroke-width="1.1"/>
<line x1="414.70" x2="414.70" y1="805.3" y2="802.3" stroke="#505050" stroke-width="1.1"/>
<line x1="431.20" x2="431.20" y1="805.3" y2="802.3" stroke="#505050" stroke-width="1.1"/>
<line x1="447.70" x2="447.70" y1="805.3" y2="802.3" stroke="#505050" stroke-width="1.1"/>
<line x1="464.20" x2="464.20" y1="805.3" y2="802.3" stroke="#505050" stroke-width="1.1"/>
<line x1="480.70" x2="480.70" y1="805.3" y2="802.3" stroke="#505050" stroke-width="1.1"/>
<line x1="497.20" x2="497.20" y1="805.3" y2="802.3" stroke="#505050" stroke-width="1.1"/>
<line x1="513.70" x2="513.70" y1="805.3" y2="800.3" stroke="#505050" stroke-width="1.1"/>
<line x1="530.20" x2="530.20" y1="805.3" y2="802.3" stroke="#505050" stroke-width="1.1"/>
<line x1="546.70" x2="546.70" y1="805.3" y2="802.3" stroke="#505050" stroke-width="1.1"/>
<line x1="563.20" x2="563.20" y1="805.3" y2="802.3" stroke="#505050" stroke-width="1.1"/>
<line x1="579.70" x2="579.70" y1="805.3" y2="802.3" stroke="#505050" stroke-width="1.1"/>
<line x1="596.20" x2="596.20" y1="805.3" y2="802.3" stroke="#505050" stroke-width="1.1"/>
<line x1="612.70" x2="612.70" y1="805.3" y2="802.3" stroke="#505050" stroke-width="1.1"/>
<line x1="629.20" x2="629.20" y1="805.3" y2="800.3" stroke="#505050" stroke-width="1.1"/>
<line x1="645.70" x2="645.70" y1="805.3" y2="802.3" stroke="#505050" stroke-width="1.1"/>
<line x1="662.20" x2="662.20" y1="805.3" y2="802.3" stroke="#505050" stroke-width="1.1"/>
<text x="51.70" y="824.5" font-size="16.0" text-anchor="middle" fill="#111">1</text>
<text x="167.20" y="824.5" font-size="16.0" text-anchor="middle" fill="#111">8</text>
<text x="282.70" y="824.5" font-size="16.0" text-anchor="middle" fill="#111">15</text>
<text x="398.20" y="824.5" font-size="16.0" text-anchor="middle" fill="#111">22</text>
<text x="513.70" y="824.5" font-size="16.0" text-anchor="middle" fill="#111">29</text>
<text x="629.20" y="824.5" font-size="16.0" text-anchor="middle" fill="#111">36</text>
<text x="70" y="716.5" font-size="16.3" font-weight="bold" fill="#111">c</text>
<clipPath id="clipd"><rect x="51.7" y="827.9" width="626.7" height="103.3"/></clipPath>
<g clip-path="url(#clipd)">
<polyline points="51.70,886.20 69.10,886.20 86.50,886.20 103.90,886.20 121.30,886.20 138.70,886.20 156.10,886.20 173.50,886.20 190.90,886.20 208.30,886.20 225.70,886.20 243.10,886.20 260.50,886.20 277.90,886.20 295.30,886.20 312.70,886.20 330.10,886.20 347.50,886.20 364.90,886.20 382.30,886.20 399.70,886.20 417.10,886.20 434.50,886.20 451.90,886.20 469.30,886.20 486.70,886.20 504.10,886.20 521.50,886.20 538.90,886.20 556.30,886.20 573.70,886.20 591.10,886.20 608.50,886.20 625.90,886.20 643.30,886.20 660.70,886.20 678.10,886.20" fill="none" stroke="#eec26e" stroke-width="1.8" stroke-linejoin="miter" stroke-miterlimit="3"/>
<polyline points="51.70,886.20 69.10,886.20 86.50,886.20 103.90,886.20 121.30,886.20 138.70,886.20 156.10,886.20 173.50,886.20 190.90,886.20 208.30,886.20 225.70,886.20 243.10,886.20 260.50,886.20 277.90,886.20 295.30,886.20 312.70,886.20 330.10,886.20 347.50,886.20 364.90,886.20 382.30,886.20 399.70,886.20 417.10,886.20 434.50,886.20 451.90,886.20 469.30,886.20 486.70,886.20 504.10,886.20 521.50,886.20 538.90,886.20 556.30,886.20 573.70,886.20 591.10,886.20 608.50,886.20 625.90,886.20 643.30,886.20 660.70,886.20 678.10,886.20" fill="none" stroke="#76b3d7" stroke-width="1.5" stroke-linejoin="miter" stroke-miterlimit="3"/>
<polyline points="51.70,895.88 69.10,898.08 86.50,892.80 103.90,885.76 121.30,882.24 138.70,886.20 156.10,886.20 173.50,886.20 190.90,886.20 208.30,886.20 225.70,886.20 243.10,888.84 260.50,884.88 277.90,884.00 295.30,880.48 312.70,884.88 330.10,885.76 347.50,885.32 364.90,884.44 382.30,885.32 399.70,886.20 417.10,886.20 434.50,886.20 451.90,886.20 469.30,886.20 486.70,886.20 504.10,886.20 521.50,886.20 538.90,887.52 556.30,885.76 573.70,877.84 591.10,876.96 608.50,880.92 625.90,887.52 643.30,890.16 660.70,891.92 678.10,895.44" fill="none" stroke="#4f66b2" stroke-width="1.5" stroke-linejoin="miter" stroke-miterlimit="3"/>
<polyline points="51.70,886.20 69.10,886.20 86.50,886.20 103.90,886.20 121.30,886.20 138.70,886.20 156.10,886.20 173.50,886.20 190.90,886.20 208.30,886.20 225.70,886.20 243.10,886.20 260.50,886.20 277.90,886.20 295.30,886.20 312.70,886.20 330.10,886.20 347.50,886.20 364.90,886.20 382.30,886.20 399.70,886.20 417.10,886.20 434.50,886.20 451.90,886.20 469.30,886.20 486.70,886.20 504.10,886.20 521.50,886.20 538.90,886.20 556.30,886.20 573.70,886.20 591.10,886.20 608.50,886.20 625.90,886.20 643.30,886.20 660.70,886.20 678.10,886.20" fill="none" stroke="#ec6e42" stroke-width="2.0" stroke-linejoin="miter" stroke-miterlimit="3"/>
<polyline points="51.70,859.36 69.10,857.60 86.50,864.64 103.90,854.96 121.30,855.84 138.70,861.56 156.10,861.56 173.50,861.56 190.90,860.24 208.30,862.44 225.70,861.56 243.10,864.64 260.50,860.68 277.90,860.68 295.30,858.04 312.70,861.12 330.10,879.60 347.50,887.52 364.90,888.84 382.30,883.56 399.70,887.52 417.10,895.00 434.50,906.88 451.90,898.52 469.30,908.64 486.70,910.40 504.10,912.60 521.50,916.12 538.90,914.80 556.30,910.40 573.70,903.80 591.10,902.04 608.50,908.64 625.90,911.28 643.30,920.08 660.70,921.84 678.10,924.92" fill="none" stroke="#111" stroke-width="1.3" stroke-linejoin="miter" stroke-miterlimit="3"/>
<polyline points="51.70,893.24 69.10,891.04 86.50,899.84 103.90,887.52 121.30,886.64 138.70,884.00 156.10,885.76 173.50,883.56 190.90,882.24 208.30,882.68 225.70,881.36 243.10,883.56 260.50,878.72 277.90,877.84 295.30,877.84 312.70,877.84 330.10,886.20 347.50,885.76 364.90,885.76 382.30,886.20 399.70,886.20 417.10,888.40 434.50,893.68 451.90,890.16 469.30,894.56 486.70,894.56 504.10,887.52 521.50,886.20 538.90,886.20 556.30,887.52 573.70,886.20 591.10,871.68 608.50,873.00 625.90,871.68 643.30,885.76 660.70,885.32 678.10,886.20" fill="none" stroke="#52a894" stroke-width="5.4" stroke-linejoin="miter" stroke-miterlimit="3"/>
<polyline points="51.70,842.20 69.10,841.76 86.50,844.40 103.90,855.84 121.30,859.36 138.70,863.76 156.10,862.88 173.50,865.08 190.90,866.40 208.30,865.96 225.70,867.72 243.10,864.64 260.50,869.48 277.90,870.80 295.30,872.12 312.70,870.36 330.10,882.24 347.50,887.52 364.90,888.84 382.30,883.56 399.70,887.52 417.10,893.68 434.50,899.84 451.90,895.00 469.30,900.28 486.70,900.72 504.10,911.28 521.50,915.68 538.90,912.16 556.30,911.28 573.70,912.16 591.10,925.80 608.50,927.12 625.90,924.92 643.30,917.00 660.70,917.88 678.10,916.56" fill="none" stroke="#8fdaa8" stroke-width="5.6" stroke-linejoin="miter" stroke-miterlimit="3"/>
</g>
<rect x="51.7" y="827.9" width="626.7" height="103.3" fill="none" stroke="#505050" stroke-width="1.2"/>
<line x1="51.7" x2="56.7" y1="833.40" y2="833.40" stroke="#505050" stroke-width="1.1"/>
<text x="45" y="838.80" font-size="16.0" text-anchor="end" fill="#111">1.2</text>
<line x1="51.7" x2="56.7" y1="859.80" y2="859.80" stroke="#505050" stroke-width="1.1"/>
<text x="45" y="865.20" font-size="16.0" text-anchor="end" fill="#111">0.6</text>
<line x1="51.7" x2="56.7" y1="886.20" y2="886.20" stroke="#505050" stroke-width="1.1"/>
<text x="45" y="891.60" font-size="16.0" text-anchor="end" fill="#111">0.0</text>
<line x1="51.7" x2="56.7" y1="912.60" y2="912.60" stroke="#505050" stroke-width="1.1"/>
<text x="45" y="918.00" font-size="16.0" text-anchor="end" fill="#111">-0.6</text>
<line x1="51.7" x2="54.7" y1="842.20" y2="842.20" stroke="#505050" stroke-width="1.1"/>
<line x1="51.7" x2="54.7" y1="851.00" y2="851.00" stroke="#505050" stroke-width="1.1"/>
<line x1="51.7" x2="54.7" y1="868.60" y2="868.60" stroke="#505050" stroke-width="1.1"/>
<line x1="51.7" x2="54.7" y1="877.40" y2="877.40" stroke="#505050" stroke-width="1.1"/>
<line x1="51.7" x2="54.7" y1="895.00" y2="895.00" stroke="#505050" stroke-width="1.1"/>
<line x1="51.7" x2="54.7" y1="903.80" y2="903.80" stroke="#505050" stroke-width="1.1"/>
<line x1="51.7" x2="54.7" y1="921.40" y2="921.40" stroke="#505050" stroke-width="1.1"/>
<line x1="51.7" x2="54.7" y1="930.20" y2="930.20" stroke="#505050" stroke-width="1.1"/>
<line x1="69.10" x2="69.10" y1="931.2" y2="928.2" stroke="#505050" stroke-width="1.1"/>
<line x1="86.50" x2="86.50" y1="931.2" y2="928.2" stroke="#505050" stroke-width="1.1"/>
<line x1="103.90" x2="103.90" y1="931.2" y2="928.2" stroke="#505050" stroke-width="1.1"/>
<line x1="121.30" x2="121.30" y1="931.2" y2="928.2" stroke="#505050" stroke-width="1.1"/>
<line x1="138.70" x2="138.70" y1="931.2" y2="928.2" stroke="#505050" stroke-width="1.1"/>
<line x1="156.10" x2="156.10" y1="931.2" y2="928.2" stroke="#505050" stroke-width="1.1"/>
<line x1="173.50" x2="173.50" y1="931.2" y2="926.2" stroke="#505050" stroke-width="1.1"/>
<line x1="190.90" x2="190.90" y1="931.2" y2="928.2" stroke="#505050" stroke-width="1.1"/>
<line x1="208.30" x2="208.30" y1="931.2" y2="928.2" stroke="#505050" stroke-width="1.1"/>
<line x1="225.70" x2="225.70" y1="931.2" y2="928.2" stroke="#505050" stroke-width="1.1"/>
<line x1="243.10" x2="243.10" y1="931.2" y2="928.2" stroke="#505050" stroke-width="1.1"/>
<line x1="260.50" x2="260.50" y1="931.2" y2="928.2" stroke="#505050" stroke-width="1.1"/>
<line x1="277.90" x2="277.90" y1="931.2" y2="928.2" stroke="#505050" stroke-width="1.1"/>
<line x1="295.30" x2="295.30" y1="931.2" y2="926.2" stroke="#505050" stroke-width="1.1"/>
<line x1="312.70" x2="312.70" y1="931.2" y2="928.2" stroke="#505050" stroke-width="1.1"/>
<line x1="330.10" x2="330.10" y1="931.2" y2="928.2" stroke="#505050" stroke-width="1.1"/>
<line x1="347.50" x2="347.50" y1="931.2" y2="928.2" stroke="#505050" stroke-width="1.1"/>
<line x1="364.90" x2="364.90" y1="931.2" y2="928.2" stroke="#505050" stroke-width="1.1"/>
<line x1="382.30" x2="382.30" y1="931.2" y2="928.2" stroke="#505050" stroke-width="1.1"/>
<line x1="399.70" x2="399.70" y1="931.2" y2="928.2" stroke="#505050" stroke-width="1.1"/>
<line x1="417.10" x2="417.10" y1="931.2" y2="926.2" stroke="#505050" stroke-width="1.1"/>
<line x1="434.50" x2="434.50" y1="931.2" y2="928.2" stroke="#505050" stroke-width="1.1"/>
<line x1="451.90" x2="451.90" y1="931.2" y2="928.2" stroke="#505050" stroke-width="1.1"/>
<line x1="469.30" x2="469.30" y1="931.2" y2="928.2" stroke="#505050" stroke-width="1.1"/>
<line x1="486.70" x2="486.70" y1="931.2" y2="928.2" stroke="#505050" stroke-width="1.1"/>
<line x1="504.10" x2="504.10" y1="931.2" y2="928.2" stroke="#505050" stroke-width="1.1"/>
<line x1="521.50" x2="521.50" y1="931.2" y2="928.2" stroke="#505050" stroke-width="1.1"/>
<line x1="538.90" x2="538.90" y1="931.2" y2="926.2" stroke="#505050" stroke-width="1.1"/>
<line x1="556.30" x2="556.30" y1="931.2" y2="928.2" stroke="#505050" stroke-width="1.1"/>
<line x1="573.70" x2="573.70" y1="931.2" y2="928.2" stroke="#505050" stroke-width="1.1"/>
<line x1="591.10" x2="591.10" y1="931.2" y2="928.2" stroke="#505050" stroke-width="1.1"/>
<line x1="608.50" x2="608.50" y1="931.2" y2="928.2" stroke="#505050" stroke-width="1.1"/>
<line x1="625.90" x2="625.90" y1="931.2" y2="928.2" stroke="#505050" stroke-width="1.1"/>
<line x1="643.30" x2="643.30" y1="931.2" y2="928.2" stroke="#505050" stroke-width="1.1"/>
<line x1="660.70" x2="660.70" y1="931.2" y2="926.2" stroke="#505050" stroke-width="1.1"/>
<text x="51.70" y="951.6999999999999" font-size="16.0" text-anchor="middle" fill="#111">1</text>
<text x="173.50" y="951.6999999999999" font-size="16.0" text-anchor="middle" fill="#111">8</text>
<text x="295.30" y="951.6999999999999" font-size="16.0" text-anchor="middle" fill="#111">15</text>
<text x="417.10" y="951.6999999999999" font-size="16.0" text-anchor="middle" fill="#111">22</text>
<text x="538.90" y="951.6999999999999" font-size="16.0" text-anchor="middle" fill="#111">29</text>
<text x="660.70" y="951.6999999999999" font-size="16.0" text-anchor="middle" fill="#111">36</text>
<text x="70" y="841.1" font-size="16.3" font-weight="bold" fill="#111">d</text>
<text x="13.3" y="887.1" font-size="16.2" fill="#111" transform="rotate(-90 13.3 887.1)" textLength="268.5" lengthAdjust="spacingAndGlyphs">Contribution to sediment flux anomaly</text>
<text x="365.3" y="968.3" font-size="16.2" text-anchor="middle" fill="#111">Year number</text>
<line x1="51.1" x2="87.4" y1="982.8" y2="982.8" stroke="#4f66b2" stroke-width="1.5"/>
<text x="92.1" y="988.3" font-size="16.2" fill="#111">Pathway I</text>
<line x1="51.1" x2="87.4" y1="1002.4" y2="1002.4" stroke="#76b3d7" stroke-width="1.5"/>
<text x="92.1" y="1007.9" font-size="16.2" fill="#111">Pathway V-II</text>
<line x1="191.2" x2="227.5" y1="982.8" y2="982.8" stroke="#52a894" stroke-width="1.5"/>
<text x="232.2" y="988.3" font-size="16.2" fill="#111">Pathway VII-II</text>
<line x1="191.2" x2="227.5" y1="1002.4" y2="1002.4" stroke="#8fdaa8" stroke-width="1.5"/>
<text x="232.2" y="1007.9" font-size="16.2" fill="#111">Pathway IV</text>
<line x1="341.0" x2="377.3" y1="982.8" y2="982.8" stroke="#b55d1b" stroke-width="1.5"/>
<text x="382.0" y="988.3" font-size="16.2" fill="#111">Pathway VI-II</text>
<line x1="341.0" x2="377.3" y1="1002.4" y2="1002.4" stroke="#ec6e42" stroke-width="1.5"/>
<text x="382.0" y="1007.9" font-size="16.2" fill="#111">Pathway IX-VIII-II</text>
<line x1="521.1" x2="557.4" y1="982.8" y2="982.8" stroke="#111" stroke-width="1.5"/>
<text x="562.1" y="988.3" font-size="16.2" fill="#111">All Pathways</text>
<line x1="521.1" x2="557.4" y1="1002.4" y2="1002.4" stroke="#eec26e" stroke-width="1.5"/>
<text x="562.1" y="1007.9" font-size="16.2" fill="#111">Pathway IX-III</text>
</svg></body></html>
